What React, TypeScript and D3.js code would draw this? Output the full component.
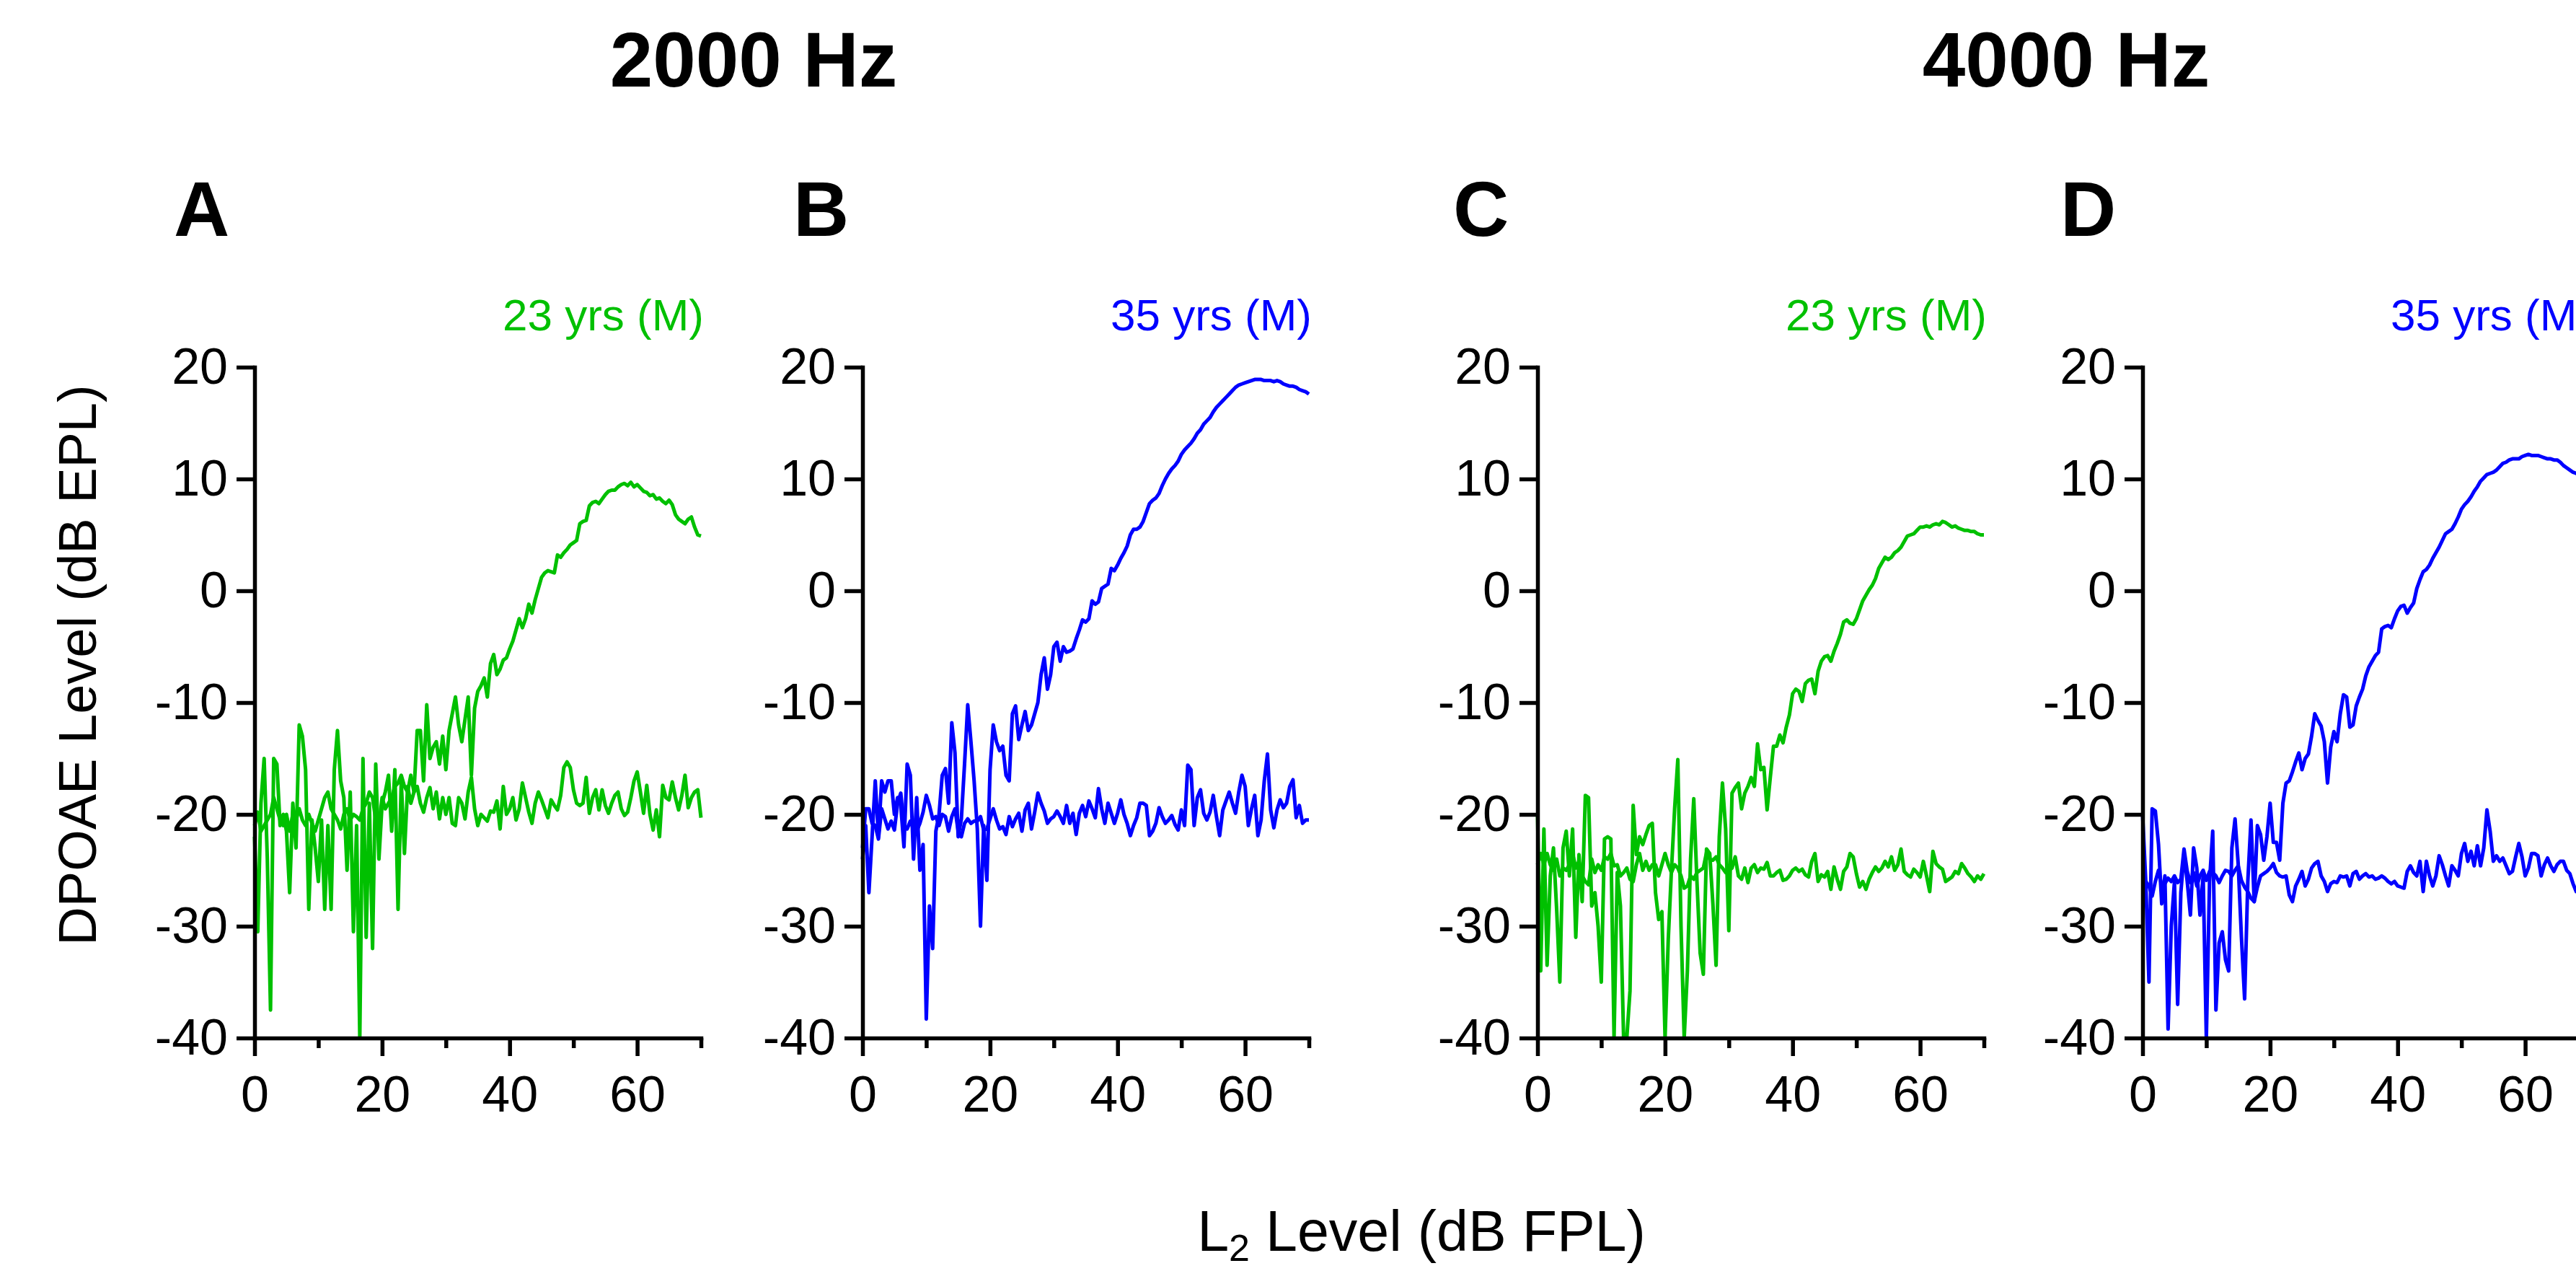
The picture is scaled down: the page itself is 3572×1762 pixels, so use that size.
import React, { useEffect, useRef } from "react";
import * as d3 from "d3";

// ---------- data ----------
const L2_LEVEL = [
  0, 0.5, 1, 1.5, 2, 2.5, 3, 3.5, 4, 4.5,
  5, 5.5, 6, 6.5, 7, 7.5, 8, 8.5, 9, 9.5,
  10, 10.5, 11, 11.5, 12, 12.5, 13, 13.5, 14, 14.5,
  15, 15.5, 16, 16.5, 17, 17.5, 18, 18.5, 19, 19.5,
  20, 20.5, 21, 21.5, 22, 22.5, 23, 23.5, 24, 24.5,
  25, 25.5, 26, 26.5, 27, 27.5, 28, 28.5, 29, 29.5,
  30, 30.5, 31, 31.5, 32, 32.5, 33, 33.5, 34, 34.5,
  35, 35.5, 36, 36.5, 37, 37.5, 38, 38.5, 39, 39.5,
  40, 40.5, 41, 41.5, 42, 42.5, 43, 43.5, 44, 44.5,
  45, 45.5, 46, 46.5, 47, 47.5, 48, 48.5, 49, 49.5,
  50, 50.5, 51, 51.5, 52, 52.5, 53, 53.5, 54, 54.5,
  55, 55.5, 56, 56.5, 57, 57.5, 58, 58.5, 59, 59.5,
  60, 60.5, 61, 61.5, 62, 62.5, 63, 63.5, 64, 64.5,
  65, 65.5, 66, 66.5, 67, 67.5, 68, 68.5, 69, 69.5,
  70,
];

const DPOAE_A = [
  -22, -30.5, -19, -15, -24, -37.5, -15, -15.5, -21, -20,
  -21.5, -27, -19, -23, -12, -13, -16, -28.5, -20.5, -23,
  -26, -20.5, -28.5, -21, -28.5, -16, -12.5, -17, -18.5, -25,
  -18, -30.5, -21, -40, -15, -31, -19, -32, -15.5, -24,
  -19, -18, -16.5, -21.5, -16, -28.5, -17, -23.5, -17.5, -19,
  -18, -12.5, -12.5, -17, -10.2, -15, -14, -13.5, -15.5, -13,
  -16, -12.5, -11, -9.5, -12, -13.5, -11.5, -9.5, -16.5, -10.5,
  -9, -8.5, -7.8, -9.5, -6.5, -5.7, -7.5, -7, -6.2, -6,
  -5.2, -4.5, -3.5, -2.5, -3.3, -2.5, -1.2, -2, -0.8, 0.2,
  1.2, 1.6, 1.8, 1.7, 1.6, 3.2, 3.0, 3.4, 3.7, 4.1,
  4.3, 4.5, 6.0, 6.2, 6.3, 7.6, 7.9, 8.0, 7.8, 8.2,
  8.6, 8.9, 9.0, 9.0, 9.3, 9.5, 9.6, 9.4, 9.7, 9.3,
  9.5, 9.2, 8.9, 8.8, 8.5, 8.6, 8.2, 8.3, 8.0, 7.8,
  8.1, 7.7, 6.8, 6.4, 6.2, 6.0, 6.4, 6.6, 5.7, 5.0,
  4.9,
];
const NOISE_A = [
  -21, -19.8, -21.5, -21, -20.5, -20, -18.5, -19.5, -20.5, -21,
  -20, -21.5, -20, -20.5, -19.5, -20.5, -21, -20, -20.8, -21.5,
  -20.5, -19.5, -18.5, -18, -19.5, -20, -20.5, -21.3, -20, -19.5,
  -20.5, -20, -20.2, -20.5, -19.5, -19, -18, -18.5, -20.5, -21,
  -18.5, -19.5, -19, -18.5, -17.5, -17.2, -16.5, -17.5, -18, -16.5,
  -18, -17.5, -19, -19.8, -18.5, -17.6, -19.5, -18, -20.4, -18.5,
  -20, -18.5, -20.8, -21, -18.5, -19, -20.4, -18, -16.7, -19.5,
  -21, -20, -20.3, -20.6, -19.7, -19.8, -18.8, -21.3, -17.5, -20,
  -19.5, -18.5, -20.5, -19.5, -17.2, -18.5, -19.8, -20.8, -19, -18,
  -18.7, -19.5, -20.3, -18.7, -19.2, -19.6, -18.3, -15.8, -15.3, -15.8,
  -17.8, -19, -19.2, -19, -16.7, -19.9, -18.5, -17.8, -19.6, -17.8,
  -19.2, -19.9, -19, -18.3, -18, -19.5, -20.1, -19.8, -18.5, -17,
  -16.2, -18, -19.9, -17.4, -20, -21.4, -19.6, -22, -17.4, -18.5,
  -18.7, -17.1, -18.5, -19.6, -18.3, -16.5, -19.4, -18.5, -18, -17.8,
  -20.3,
];

const DPOAE_B = [
  -24, -21, -27, -22, -17, -22, -17, -18, -17, -17,
  -20, -18.5, -19.2, -22.9, -15.5, -16.5, -24, -18.5, -25, -22.7,
  -38.3, -28.2, -32, -21.5, -20, -16.5, -15.9, -19, -11.8, -14.5,
  -22, -20.4, -15.5, -10.2, -13.5, -17, -21.3, -30, -21, -25.9,
  -16, -12, -13.5, -14.3, -13.9, -16.5, -17, -11, -10.3, -13.3,
  -12, -10.8, -12.5, -12, -11, -10, -7.5, -6, -8.8, -7.5,
  -5, -4.6, -6.3, -5, -5.5, -5.4, -5.2, -4.3, -3.5, -2.6,
  -2.8, -2.5, -0.9, -1.2, -1, 0.2, 0.4, 0.6, 2, 1.8,
  2.3, 2.9, 3.4, 4, 5, 5.5, 5.5, 5.7, 6.2, 7,
  7.8, 8.1, 8.3, 8.7, 9.4, 10, 10.5, 10.9, 11.2, 11.6,
  12.2, 12.6, 12.9, 13.2, 13.6, 14.1, 14.4, 14.9, 15.2, 15.5,
  16, 16.4, 16.7, 17, 17.3, 17.6, 17.9, 18.2, 18.4, 18.5,
  18.6, 18.7, 18.8, 18.9, 18.9, 18.9, 18.8, 18.8, 18.8, 18.7,
  18.8, 18.7, 18.5, 18.4, 18.3, 18.3, 18.2, 18.0, 17.9, 17.8,
  17.6,
];
const NOISE_B = [
  -23, -19.5, -19.5, -20.8, -21, -22.2, -19.5, -20.4, -21.3, -20.6,
  -21.4, -19, -18.1, -21.1, -21.3, -20.6, -21.3, -21.5, -20.8, -19.8,
  -18.3, -19.2, -20.4, -20.2, -21, -20, -20.2, -21.5, -20.2, -19.5,
  -21.5, -22, -20.8, -20.4, -20.8, -20.6, -20.6, -20.2, -21.4, -21.3,
  -20.4, -19.5, -20.5, -21.3, -21.1, -21.8, -20.2, -21.1, -20.4, -19.9,
  -21.5, -19.6, -19, -21.3, -19.8, -18.1, -19, -19.7, -20.8, -20.4,
  -20.2, -19.7, -20.2, -20.8, -19.2, -20.8, -19.9, -21.8, -19.9, -19.2,
  -20.2, -18.8, -19.5, -20.3, -17.7, -19.5, -20.8, -19, -19.9, -20.8,
  -19.9, -18.7, -20, -20.8, -21.9, -21, -20.3, -19, -19, -19.2,
  -21.9, -21.5, -20.8, -19.4, -20.2, -20.8, -20.5, -20.1, -20.9, -21.4,
  -19.6, -21, -15.6, -16, -21, -18.5, -17.8, -19.9, -20.5, -19.8,
  -18.3, -20.2, -21.9, -19.6, -18.8, -18, -19, -19.9, -18, -16.5,
  -17.5, -21, -19.5, -18.3, -21.9, -20.5, -17, -14.6, -19.6, -21.2,
  -19.6, -18.7, -19.4, -19, -17.5, -16.9, -20.3, -19.2, -20.8, -20.5,
  -20.5,
];

const DPOAE_C = [
  -20, -34, -21.3, -33.5, -25.5, -23, -28.5, -35, -23, -21.5,
  -25.5, -21.3, -31, -23.6, -27.8, -18.3, -18.5, -28.2, -27, -30,
  -35, -22.2, -22, -22.2, -40, -25.2, -28.2, -40, -40, -35.8,
  -19.2, -23.6, -22, -22.7, -21.8, -21, -20.8, -27, -29.4, -28.7,
  -40, -31.2, -25, -19.5, -15.1, -30, -40, -34, -24, -18.6,
  -26, -32.4, -34.3, -23.1, -23.5, -28, -33.5, -22, -17.2, -21.3,
  -30.4, -18.1, -17.6, -17.2, -19.5, -18.1, -17.5, -16.7, -17.5, -13.7,
  -16, -15.8, -19.6, -16.7, -13.9, -13.9, -12.9, -13.6, -12.2, -11.1,
  -9.2, -8.8, -9, -9.9, -8.3, -8, -7.9, -9.2, -7.2, -6.3,
  -5.9, -5.8, -6.3, -5.4, -4.7, -3.9, -2.8, -2.6, -2.9, -3,
  -2.5, -1.7, -0.9, -0.4, 0.1, 0.5, 1.1, 2, 2.5, 3,
  2.8, 3, 3.4, 3.6, 3.9, 4.4, 4.9, 5, 5.1, 5.4,
  5.7, 5.7, 5.8, 5.7, 5.9, 6, 5.9, 6.2, 6.1, 5.9,
  5.7, 5.8, 5.6, 5.5, 5.4, 5.4, 5.3, 5.3, 5.1, 5.0,
  5.0,
];
const NOISE_C = [
  -24.5, -23.5, -24.5, -23.5, -24.5, -25, -24, -25.5, -24.8, -25,
  -24.5, -23.5, -24.8, -24.2, -25.5, -26, -26.3, -24, -25.2, -24.5,
  -25, -23.8, -24, -23.5, -24.6, -24.5, -25.5, -25.2, -24.8, -25.8,
  -26, -24.5, -23.5, -25, -24.2, -25, -24.5, -24.5, -25.5, -24.5,
  -23.5, -24.5, -25.2, -24.5, -24.8, -25.5, -26.6, -26.4, -25.5, -25.8,
  -25.2, -25, -24.8, -23.4, -24, -24.1, -23.8, -24.5, -24.8, -25.2,
  -25, -24.8, -23.8, -25.5, -25.8, -24.8, -26.1, -24.8, -24.5, -25.2,
  -24.8, -24.9, -24.3, -25.5, -25.5, -25.2, -25, -25.9, -25.8, -25.5,
  -25, -24.8, -25.1, -24.9, -25.4, -25.6, -24.2, -23.5, -26, -25.4,
  -25.6, -25.1, -26.7, -24.7, -25.8, -26.7, -25.1, -24.7, -23.5, -23.8,
  -25.3, -26.5, -26, -26.7, -25.8, -25.2, -24.7, -25.1, -24.8, -24.2,
  -24.7, -23.8, -25, -24.5, -23.1, -25.1, -25.4, -25.6, -24.9, -25.2,
  -25.6, -24.2, -25.5, -26.9, -23.3, -24.4, -24.7, -24.9, -26, -25.8,
  -25.6, -25.1, -25.3, -24.4, -24.8, -25.3, -25.6, -26, -25.5, -25.8,
  -25.3,
];

const DPOAE_D = [
  -20, -26, -35, -19.5, -19.7, -22.7, -28, -25.5, -39.2, -30,
  -26, -37, -27, -23.5, -26, -29, -23, -24.8, -29, -25.5,
  -40, -26, -21.5, -37.5, -31.5, -30.5, -33, -34, -23, -20.4,
  -24.5, -31, -36.5, -26, -20.5, -27.8, -21, -21.8, -24.1, -22,
  -19, -22.5, -22.5, -24.1, -19, -17.2, -17, -16.2, -15.3, -14.5,
  -16, -15, -14.6, -13, -11, -11.6, -12.1, -13.5, -17.2, -14,
  -12.6, -13.5, -11, -9.3, -9.5, -12.2, -12, -10.3, -9.5, -8.8,
  -7.6, -6.8, -6.3, -5.8, -5.5, -3.4, -3.2, -3.1, -3.3, -2.5,
  -1.8, -1.4, -1.3, -2, -1.5, -1.1, 0.2, 1, 1.7, 1.9,
  2.3, 2.9, 3.4, 3.9, 4.5, 5.1, 5.3, 5.5, 6, 6.6,
  7.3, 7.7, 8, 8.4, 8.9, 9.3, 9.8, 10.1, 10.4, 10.5,
  10.6, 10.8, 11.1, 11.4, 11.5, 11.7, 11.8, 11.8, 11.8, 12,
  12.1, 12.2, 12.1, 12.1, 12.1, 12, 11.9, 11.8, 11.8, 11.7,
  11.7, 11.5, 11.2, 11, 10.8, 10.6, 10.5, 10.3, 10.1, 9.9,
  9.7,
];
const NOISE_D = [
  -25.7, -26, -26.4, -27.3, -26, -25, -26.4, -26.2, -25.7, -26,
  -25.5, -26.1, -25.8, -23.1, -25.1, -26.1, -25.2, -26.4, -25.5, -25,
  -25.9, -25.1, -25.2, -25.5, -26.1, -25.5, -25, -25.1, -25.5, -25,
  -24.6, -25.9, -26.5, -26.9, -27.5, -27.8, -26.5, -25.5, -25.3, -25.1,
  -24.8, -24.4, -25.2, -25.5, -25.6, -25.5, -27.2, -27.8, -26.4, -25.8,
  -25.1, -26.4, -25.8, -24.8, -24.4, -24.2, -25.5, -26, -26.9, -26.2,
  -26, -26.1, -25.5, -25.6, -25.5, -26.4, -25.3, -25.1, -25.8, -25.5,
  -25.3, -25.6, -25.5, -25.8, -25.7, -25.5, -25.7, -26, -26.2, -26,
  -26.4, -26.5, -26.6, -25.1, -24.6, -25.2, -25.5, -24.2, -26.9, -24.2,
  -25.5, -26.4, -25.5, -23.7, -24.5, -25.5, -26.4, -24.6, -25, -25.5,
  -23.5, -22.6, -24.2, -23.3, -24.6, -22.8, -24.6, -23, -19.6, -21.5,
  -24.2, -23.7, -24.2, -23.9, -24.6, -25.3, -25.1, -23.8, -22.6, -23.8,
  -25.5, -24.8, -23.5, -23.5, -23.7, -25.5, -24.5, -23.9, -24.6, -25.1,
  -24.5, -24.2, -24.2, -25, -25.3, -26.2, -26.9, -26.5, -26.3, -26.5,
  -26.4,
];

const Y_TICKS = [-40, -30, -20, -10, 0, 10, 20];
const X_TICKS = [0, 10, 20, 30, 40, 50, 60, 70];
const X_LABELED = [0, 20, 40, 60];
const HEADERS = ["2000 Hz", "4000 Hz"];
const PANEL_LETTERS = ["A", "B", "C", "D"];
const SUBJECTS = ["23 yrs (M)", "35 yrs (M)", "23 yrs (M)", "35 yrs (M)"];

// ---------- layout / style ----------
const W = 3572;
const H = 1762;
const PW = 619;
const Y_TOP = 509;
const Y_BOT = 1439;
const PANEL_X0 = [353, 1196, 2132, 2971];
const LETTER_X = [241, 1100, 2015, 2857];
const HEADER_X = [1045, 2865];
const GREEN = "#00c000";
const BLUE = "#0000ff";
const FONT = "'Liberation Sans', Arial, Helvetica, sans-serif";
const DATA_STROKE = 5;
const AXIS_STROKE = 5.5;

const PANELS = [
  { signal: DPOAE_A, noise: NOISE_A, color: GREEN },
  { signal: DPOAE_B, noise: NOISE_B, color: BLUE },
  { signal: DPOAE_C, noise: NOISE_C, color: GREEN },
  { signal: DPOAE_D, noise: NOISE_D, color: BLUE },
].map((p, i) => ({
  ...p,
  x0: PANEL_X0[i],
  letter: PANEL_LETTERS[i],
  letterX: LETTER_X[i],
  subject: SUBJECTS[i],
}));

function Panel({ p }: { p: any }) {
  const gx = useRef<SVGGElement>(null);
  const gy = useRef<SVGGElement>(null);
  const x = d3.scaleLinear().domain([0, 70]).range([p.x0, p.x0 + PW]);
  const y = d3.scaleLinear().domain([-40, 20]).range([Y_BOT, Y_TOP]);

  useEffect(() => {
    const ax = d3
      .axisBottom(x)
      .tickValues(X_TICKS)
      .tickSize(25)
      .tickSizeOuter(0)
      .tickPadding(27)
      .tickFormat((d: any) => (X_LABELED.includes(+d) ? String(d) : ""));
    const sx = d3.select(gx.current);
    sx.selectAll("*").remove();
    sx.call(ax as any);
    sx.selectAll(".tick line").attr("y2", (d: any) => (X_LABELED.includes(+d) ? 25 : 14));

    const ay = d3
      .axisLeft(y)
      .tickValues(Y_TICKS)
      .tickSize(25)
      .tickSizeOuter(0)
      .tickPadding(12)
      .tickFormat((d: any) => String(d));
    const sy = d3.select(gy.current);
    sy.selectAll("*").remove();
    sy.call(ay as any);

    [sx, sy].forEach((s) => {
      s.attr("font-size", 70).attr("font-family", FONT).attr("color", "#000");
      s.selectAll(".domain").attr("stroke-width", AXIS_STROKE).attr("stroke-linecap", "square");
      s.selectAll(".tick line").attr("stroke-width", AXIS_STROKE);
      s.selectAll(".tick text").attr("fill", "#000");
    });
  }, []);

  const line = d3
    .line<number>()
    .x((_, i) => x(L2_LEVEL[i]))
    .y((d) => y(d));

  return (
    <g>
      <path d={line(p.noise) || ""} fill="none" stroke={p.color} strokeWidth={DATA_STROKE} strokeLinejoin="round" />
      <path d={line(p.signal) || ""} fill="none" stroke={p.color} strokeWidth={DATA_STROKE} strokeLinejoin="round" />
      <g ref={gx} transform={`translate(0,${Y_BOT})`} />
      <g ref={gy} transform={`translate(${p.x0},0)`} />
      <text x={p.letterX} y={327} fontFamily={FONT} fontWeight="bold" fontSize={107} fill="#000">
        {p.letter}
      </text>
      <text x={p.x0 + PW + 4} y={458} textAnchor="end" fontFamily={FONT} fontSize={62} fill={p.color}>
        {p.subject}
      </text>
    </g>
  );
}

export default function App() {
  useEffect(() => {
    document.body.style.margin = "0";
    document.body.style.overflow = "hidden";
  }, []);
  return (
    <svg
      width={W}
      height={H}
      viewBox={`0 0 ${W} ${H}`}
      style={{ position: "absolute", left: 0, top: 0, background: "#fff" }}
    >
      <rect x={0} y={0} width={W} height={H} fill="#fff" />
      {HEADERS.map((h, i) => (
        <text key={h} x={HEADER_X[i]} y={120} textAnchor="middle" fontFamily={FONT} fontWeight="bold" fontSize={107} fill="#000">
          {h}
        </text>
      ))}
      {PANELS.map((p) => (
        <Panel key={p.letter} p={p} />
      ))}
      <text transform="translate(133,922) rotate(-90)" textAnchor="middle" fontFamily={FONT} fontSize={74} fill="#000">
        DPOAE Level (dB EPL)
      </text>
      <text x={1971} y={1734} textAnchor="middle" fontFamily={FONT} fontSize={79} fill="#000">
        L<tspan fontSize={52} dy={14}>2</tspan>
        <tspan dy={-14}> Level (dB FPL)</tspan>
      </text>
    </svg>
  );
}
